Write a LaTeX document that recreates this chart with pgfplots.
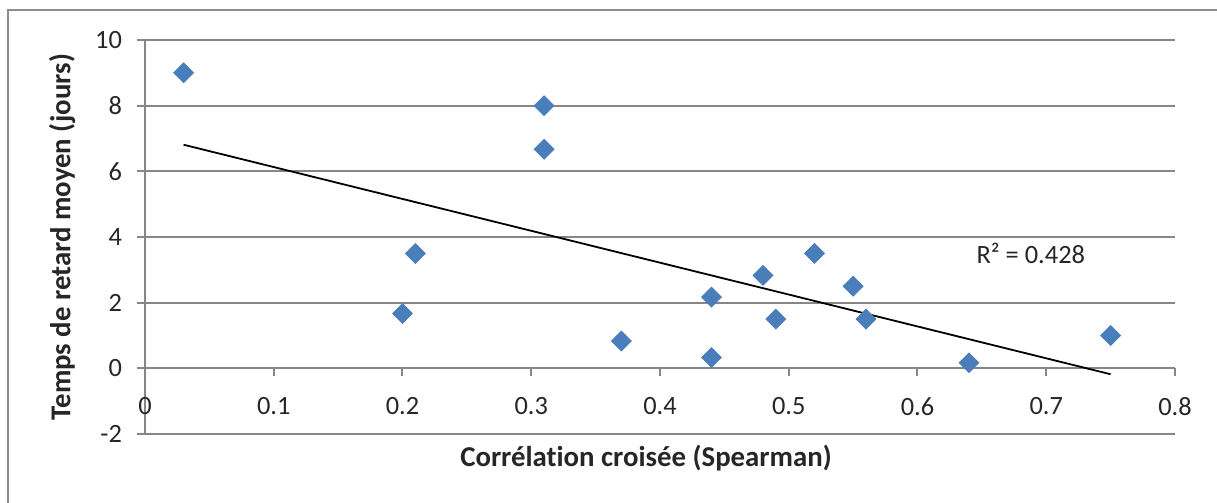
\documentclass[border=0pt]{standalone}
\usepackage{fontspec}
\setmainfont{Carlito}[Ligatures=NoCommon]
\usepackage{pgfplots}
\pgfplotsset{compat=1.18}

\definecolor{gridgray}{RGB}{134,134,134}
\definecolor{framegray}{RGB}{140,140,140}
\definecolor{pointblue}{RGB}{74,126,187}

\begin{document}
\begin{tikzpicture}
  % page = 1217 x 503 px at 0.5pt per px, origin at lower-left of the plot area
  \useasboundingbox (-72.5pt,-34.5pt) rectangle (536pt,217pt);
  \draw[framegray, line width=1pt] (-68.5pt,-34.5pt) -- (-68.5pt,212pt) -- (536pt,212pt);

  \begin{axis}[
      scale only axis,
      width=515pt, height=197pt,
      xmin=0, xmax=0.8,
      ymin=-2, ymax=10,
      axis x line*=bottom,
      axis x line shift=-32.8333pt,
      axis y line*=left,
      axis line style={-, gridgray, line width=1pt},
      xtick={0,0.1,0.2,0.3,0.4,0.5,0.6,0.7,0.8},
      ytick={-2,0,2,4,6,8,10},
      tick align=outside,
      major tick length=4pt,
      tick style={gridgray, line width=1pt},
      ymajorgrids=true,
      grid style={gridgray, line width=1pt},
      xticklabel style={anchor=north, yshift=-7pt},
      yticklabel style={anchor=east, xshift=-4pt},
      /pgf/number format/assume math mode=true,
      /pgf/number format/.cd, fixed, precision=1,
      /tikz/.cd,
      ticklabel style={font=\fontsize{13.2}{15}\selectfont, text=black!85},
      clip=false,
    ]

    \addplot[
        only marks,
        mark=square*,
        mark size=3.5pt,
        mark options={rotate=45, fill=pointblue, draw=pointblue},
      ]
      coordinates {
        (0.03,9.0)(0.20,1.67)(0.21,3.5)(0.31,8.0)(0.31,6.67)
        (0.37,0.83)(0.44,2.17)(0.44,0.33)(0.48,2.83)(0.49,1.5)
        (0.52,3.5)(0.55,2.5)(0.56,1.5)(0.64,0.17)(0.75,1.0)
      };

    % linear trend line
    \addplot[black, line width=0.9pt] coordinates {(0.03,6.81)(0.75,-0.18)};

    \node[font=\fontsize{13.2}{15}\selectfont, text=black!85] at (axis cs:0.688,3.5) {R² = 0.428};
  \end{axis}

  \node[rotate=90, font=\fontsize{14.4}{17}\selectfont\bfseries, text=black!85] at (-41.5pt,98.5pt) {Temps de retard moyen (jours)};
  \node[font=\fontsize{14.4}{17}\selectfont\bfseries, text=black!85] at (250.5pt,-12pt) {Corrélation croisée (Spearman)};
\end{tikzpicture}
\end{document}
